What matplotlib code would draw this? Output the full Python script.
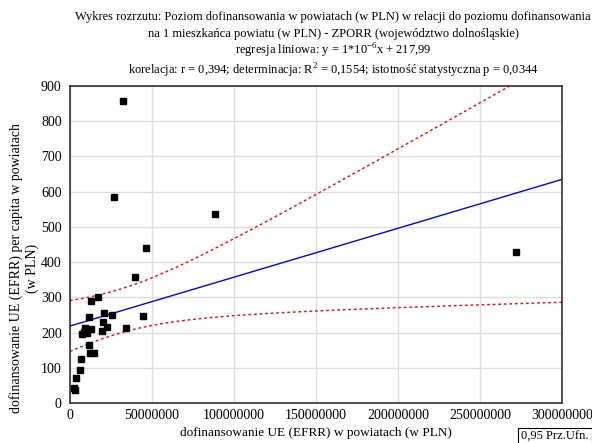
import numpy as np
import matplotlib
matplotlib.use("Agg")
import matplotlib.pyplot as plt

plt.rcParams['font.family'] = ['Liberation Serif', 'DejaVu Serif']
plt.rcParams['mathtext.fontset'] = 'custom'
plt.rcParams['mathtext.rm'] = 'Liberation Serif'
plt.rcParams['font.size'] = 9

# dofinansowanie UE w powiatach (mln PLN) i per capita (PLN)
dofin_mln = [12.8, 16.9, 11.6, 20.5, 20.3, 25.8, 22.6, 44.3, 34.3, 19.3,
             9.3, 12.6, 10.2, 7.3, 8.5, 11.6, 12.0, 14.8, 6.5, 5.9,
             3.9, 2.4, 3.0, 32.1, 26.8, 88.4, 46.3, 39.4, 271.8]
per_capita = [290, 301, 244, 256, 231, 249, 217, 248, 214, 205,
              212, 210, 198, 196, 202, 164, 143, 141, 126, 93,
              72, 42, 38, 858, 586, 537, 441, 359, 430]

x = np.array(dofin_mln) * 1e6
y = np.array(per_capita, dtype=float)

# regresja liniowa + 95% przedzial ufnosci
b, a = np.polyfit(x, y, 1)
n = len(x)
xs = np.linspace(0, 300e6, 300)
yhat = a + b * xs
res = y - (a + b * x)
s = np.sqrt(np.sum(res ** 2) / (n - 2))
sxx = np.sum((x - x.mean()) ** 2)
t = 2.052  # t(0.975, df=27)
half = t * s * np.sqrt(1.0 / n + (xs - x.mean()) ** 2 / sxx)

fig = plt.figure(figsize=(5.92, 4.43), dpi=100)
ax = fig.add_axes([70 / 592, 40 / 443, 492 / 592, 317 / 443])

ax.plot(xs, yhat, color='blue', lw=1)
ax.plot(xs, yhat + half, color='red', lw=1, ls=(0, (2, 2)))
ax.plot(xs, yhat - half, color='red', lw=1, ls=(0, (2, 2)))
ax.plot(x, y, 's', color='black', ms=4.8, zorder=5)

ax.set_xlim(0, 300e6)
ax.set_ylim(0, 900)
xt = np.arange(0, 300e6 + 1, 50e6)
ax.set_xticks(xt)
ax.set_xticklabels([f"{int(v)}" for v in xt])
ax.set_yticks(np.arange(0, 901, 100))
ax.grid(True, color='#dddddd', lw=1)
ax.set_axisbelow(True)
ax.tick_params(length=0, labelsize=10)
ax.tick_params(axis='x', pad=4)
ax.tick_params(axis='y', pad=6)
for sp in ax.spines.values():
    sp.set_color('#333333')
    sp.set_linewidth(1.2)

ax.set_xlabel('dofinansowanie UE (EFRR) w powiatach (w PLN)', labelpad=4, fontsize=9.5)
fig.text(24 / 592, 1 - 268 / 443,
         'dofinansowanie UE (EFRR) per capita w powiatach\n(w PLN)',
         rotation=90, ha='center', va='center', linespacing=1.25, fontsize=10)

cx = 333 / 592
fig.text(cx, 1 - 17 / 443,
         'Wykres rozrzutu: Poziom dofinansowania w powiatach (w PLN) w relacji do poziomu dofinansowania',
         ha='center', va='center')
fig.text(cx, 1 - 34 / 443,
         'na 1 mieszkańca powiatu (w PLN) - ZPORR (województwo dolnośląskie)',
         ha='center', va='center')
fig.text(cx, 1 - 51 / 443, 'regresja liniowa: y = 1*10$^{-6}$x + 217,99',
         ha='center', va='center')
fig.text(cx, 1 - 71 / 443,
         'korelacja: r = 0,394; determinacja: R$^{2}$ = 0,1554; istotność statystyczna p = 0,0344',
         ha='center', va='center')

fig.text(521 / 592, 1 - 437 / 443, '0,95 Prz.Ufn.', ha='left', va='center',
         bbox=dict(boxstyle='square,pad=0.25', fc='white', ec='black', lw=0.8))

fig.savefig('out.png', dpi=100)
